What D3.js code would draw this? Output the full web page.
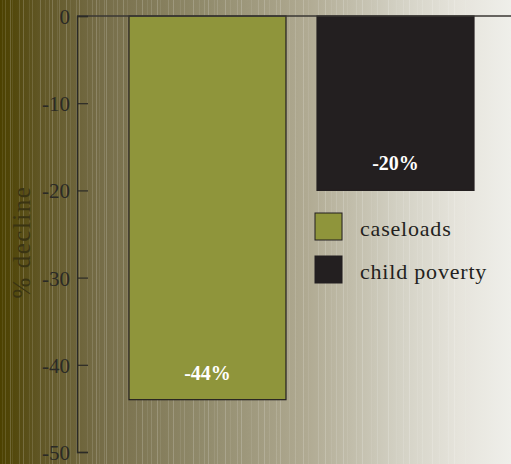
<!DOCTYPE html>
<html>
<head>
<meta charset="utf-8">
<script src="https://cdn.jsdelivr.net/npm/d3@7"></script>
<style>
  body { margin: 0; padding: 0; overflow: hidden; }
  svg { display: block; }
</style>
</head>
<body>
<svg id="chart" width="511" height="464"></svg>
<script>
// Data
const categories = ["caseloads", "child poverty"];
const values = [-44, -20];
const valueLabels = ["-44%", "-20%"];
const barColors = ["#8f953b", "#231f20"];
const yTicks = [0, -10, -20, -30, -40, -50];

const width = 511;
const height = 464;
const margin = { top: 16, right: 0, bottom: 12, left: 77 };

const svg = d3.select("#chart");

// Background: gradient with thin vertical stripes
const defs = svg.append("defs");
const grad = defs.append("linearGradient")
    .attr("id", "bg")
    .attr("x1", 0).attr("x2", 1).attr("y1", 0).attr("y2", 0);
[[0, "#4c4100"], [0.08, "#615726"], [0.2, "#766d48"], [0.4, "#918b6c"],
 [0.6, "#b0aa92"], [0.78, "#d3d1c4"], [0.9, "#e6e4dc"], [1, "#efefea"]]
    .forEach(s => grad.append("stop").attr("offset", s[0]).attr("stop-color", s[1]));

svg.append("rect")
    .attr("width", width)
    .attr("height", height)
    .attr("fill", "url(#bg)");

// stripes, fixed gap pattern repeated
const gaps = [3, 5, 2, 7, 4, 6, 3, 8, 5, 4];
const stripeX = [];
for (let x = 2, i = 0; x < 470; i++) {
    stripeX.push(x);
    x += gaps[i % gaps.length] + Math.floor(x / 120);
}
svg.append("g")
    .selectAll("line")
    .data(stripeX)
    .join("line")
    .attr("x1", d => d + 0.5).attr("x2", d => d + 0.5)
    .attr("y1", 0).attr("y2", height)
    .attr("stroke", "#ffffff")
    .attr("stroke-opacity", (d, i) => 0.08 + (i % 3) * 0.05)
    .attr("stroke-width", 1);

// Scales
const y = d3.scaleLinear()
    .domain([0, -50])
    .range([margin.top, height - margin.bottom]);

const x = d3.scaleBand()
    .domain(categories)
    .range([129, 474])
    .paddingInner(0.165)
    .paddingOuter(0);

// Bars
svg.append("g")
    .selectAll("rect")
    .data(values)
    .join("rect")
    .attr("x", (d, i) => x(categories[i]))
    .attr("y", y(0))
    .attr("width", x.bandwidth())
    .attr("height", d => y(d) - y(0))
    .attr("fill", (d, i) => barColors[i])
    .attr("stroke", "#231f20")
    .attr("stroke-width", 1.2);

// Value labels
svg.append("g")
    .selectAll("text")
    .data(values)
    .join("text")
    .attr("x", (d, i) => x(categories[i]) + x.bandwidth() / 2)
    .attr("y", d => y(d) - 20)
    .attr("text-anchor", "middle")
    .attr("font-family", "Liberation Serif, serif")
    .attr("font-weight", "bold")
    .attr("font-size", 20)
    .attr("fill", "#ffffff")
    .text((d, i) => valueLabels[i]);

// Top baseline
svg.append("line")
    .attr("x1", margin.left).attr("x2", width)
    .attr("y1", y(0)).attr("y2", y(0))
    .attr("stroke", "#3a3733")
    .attr("stroke-width", 1.5);

// Y axis
const yAxis = svg.append("g")
    .attr("transform", `translate(${margin.left},0)`)
    .call(d3.axisRight(y).tickValues(yTicks).tickSize(11).tickFormat(d => String(d)));
yAxis.select(".domain").attr("stroke", "#2b2a26").attr("stroke-width", 1.3);
yAxis.selectAll(".tick line").attr("stroke", "#2b2a26").attr("stroke-width", 1.2);
yAxis.selectAll(".tick text")
    .attr("x", -7)
    .attr("dy", "0.36em")
    .attr("text-anchor", "end")
    .attr("font-family", "Liberation Serif, serif")
    .attr("font-size", 21)
    .attr("fill", "#2b2a26");

// Y label
svg.append("text")
    .attr("transform", "translate(30,242) rotate(-90)")
    .attr("text-anchor", "middle")
    .attr("font-family", "Liberation Serif, serif")
    .attr("font-size", 25)
    .attr("letter-spacing", 1.5)
    .attr("fill", "#3a3412")
    .text("% decline");

// Legend
const legend = svg.append("g")
    .attr("transform", "translate(315,213)");
const item = legend.selectAll("g")
    .data(categories)
    .join("g")
    .attr("transform", (d, i) => `translate(0,${i * 43})`);
item.append("rect")
    .attr("width", 27).attr("height", 27)
    .attr("fill", (d, i) => barColors[i])
    .attr("stroke", "#231f20")
    .attr("stroke-width", 1);
item.append("text")
    .attr("x", 45).attr("y", 23)
    .attr("font-family", "Liberation Serif, serif")
    .attr("font-size", 22)
    .attr("letter-spacing", 0.8)
    .attr("fill", "#231f20")
    .text(d => d);
</script>
</body>
</html>
